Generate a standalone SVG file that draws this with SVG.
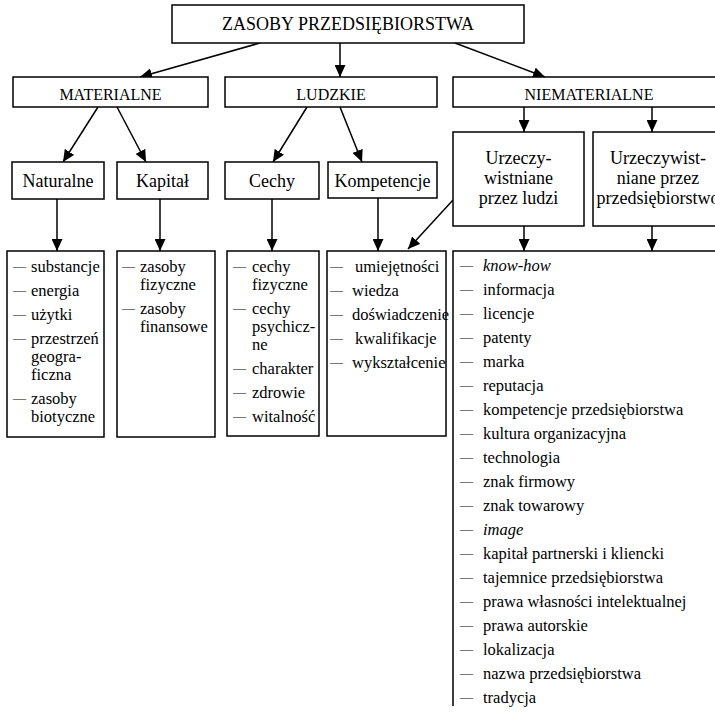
<svg xmlns="http://www.w3.org/2000/svg" width="715" height="714" viewBox="0 0 715 714">
<style>
text{font-family:"Liberation Serif","Times New Roman",serif;fill:#000}
.b{fill:#fff;stroke:#000;stroke-width:1.5}
.t18{font-size:18px;text-anchor:middle}
.t16{font-size:16px;text-anchor:middle}
.li{font-size:16.5px}
.d{font-size:13px}
.i{font-style:italic}
.c{stroke:#000;stroke-width:1.5;fill:none;marker-end:url(#ah)}
</style>
<defs>
<marker id="ah" markerUnits="userSpaceOnUse" markerWidth="12" markerHeight="11" refX="12" refY="5.5" orient="auto">
<path d="M0,0 L12,5.5 L0,11 z" fill="#000"/>
</marker>
</defs>
<rect width="715" height="714" fill="#fff"/>
<g id="connectors">
<line class="c" x1="260" y1="43" x2="140" y2="77"/>
<line class="c" x1="340" y1="43" x2="340" y2="77"/>
<line class="c" x1="455" y1="43" x2="545" y2="77"/>
<line class="c" x1="98" y1="107" x2="63" y2="162"/>
<line class="c" x1="117" y1="107" x2="146" y2="162"/>
<line class="c" x1="307" y1="107" x2="273" y2="162"/>
<line class="c" x1="340" y1="107" x2="362" y2="162"/>
<line class="c" x1="524" y1="107" x2="524" y2="132"/>
<line class="c" x1="652" y1="107" x2="652" y2="132"/>
<line class="c" x1="57" y1="199" x2="57" y2="251"/>
<line class="c" x1="160" y1="199" x2="160" y2="251"/>
<line class="c" x1="272" y1="199" x2="272" y2="251"/>
<line class="c" x1="378" y1="198" x2="378" y2="251"/>
<line class="c" x1="524" y1="226" x2="524" y2="251"/>
<line class="c" x1="652" y1="226" x2="652" y2="251"/>
<line class="c" x1="453" y1="200" x2="408" y2="249"/>
</g>
<g id="root">
<rect class="b" x="172" y="5" width="352" height="38"/>
<text class="t18" x="348" y="30">ZASOBY PRZEDSIĘBIORSTWA</text>
</g>
<g id="materialne">
<rect class="b" x="13" y="77" width="195" height="30"/>
<text class="t16" x="110.5" y="100">MATERIALNE</text>
</g>
<g id="ludzkie">
<rect class="b" x="225" y="77" width="212" height="30"/>
<text class="t16" x="331" y="100">LUDZKIE</text>
</g>
<g id="niematerialne">
<rect class="b" x="453" y="77" width="272" height="30"/>
<text class="t16" x="589" y="100">NIEMATERIALNE</text>
</g>
<g id="naturalne">
<rect class="b" x="12" y="162" width="92" height="37"/>
<text class="t18" x="58" y="187">Naturalne</text>
</g>
<g id="kapital">
<rect class="b" x="117" y="162" width="91" height="37"/>
<text class="t18" x="162.5" y="187">Kapitał</text>
</g>
<g id="cechy">
<rect class="b" x="225" y="162" width="94" height="37"/>
<text class="t18" x="272" y="187">Cechy</text>
</g>
<g id="kompetencje">
<rect class="b" x="328" y="162" width="109" height="36"/>
<text class="t18" x="382.5" y="187">Kompetencje</text>
</g>
<g id="urz-ludzi">
<rect class="b" x="453" y="132" width="131" height="94"/>
<text class="t18" x="518.5" y="164">Urzeczy-</text>
<text class="t18" x="518.5" y="184">wistniane</text>
<text class="t18" x="518.5" y="204">przez ludzi</text>
</g>
<g id="urz-przeds">
<rect class="b" x="593" y="132" width="130" height="94"/>
<text class="t18" x="658" y="164">Urzeczywist-</text>
<text class="t18" x="658" y="184">niane przez</text>
<text class="t18" x="658" y="204">przedsiębiorstwo</text>
</g>
<g id="lista-naturalne">
<rect class="b" x="7" y="251" width="97" height="186"/>
<text class="d" x="13" y="270">—</text><text class="li" x="31" y="272">substancje</text>
<text class="d" x="13" y="294">—</text><text class="li" x="31" y="296">energia</text>
<text class="d" x="13" y="318">—</text><text class="li" x="31" y="320">użytki</text>
<text class="d" x="13" y="342">—</text><text class="li" x="31" y="344">przestrzeń</text>
<text class="li" x="31" y="362">geogra-</text>
<text class="li" x="31" y="380">ficzna</text>
<text class="d" x="13" y="402">—</text><text class="li" x="31" y="404">zasoby</text>
<text class="li" x="31" y="422">biotyczne</text>
</g>
<g id="lista-kapital">
<rect class="b" x="117" y="251" width="98" height="186"/>
<text class="d" x="122" y="270">—</text><text class="li" x="140" y="272">zasoby</text>
<text class="li" x="140" y="290">fizyczne</text>
<text class="d" x="122" y="312">—</text><text class="li" x="140" y="314">zasoby</text>
<text class="li" x="140" y="332">finansowe</text>
</g>
<g id="lista-cechy">
<rect class="b" x="227" y="251" width="92" height="185"/>
<text class="d" x="233" y="270">—</text><text class="li" x="252" y="272">cechy</text>
<text class="li" x="252" y="290">fizyczne</text>
<text class="d" x="233" y="312">—</text><text class="li" x="252" y="314">cechy</text>
<text class="li" x="252" y="332">psychicz-</text>
<text class="li" x="252" y="350">ne</text>
<text class="d" x="233" y="372">—</text><text class="li" x="252" y="374">charakter</text>
<text class="d" x="233" y="396">—</text><text class="li" x="252" y="398">zdrowie</text>
<text class="d" x="233" y="420">—</text><text class="li" x="252" y="422">witalność</text>
</g>
<g id="lista-kompetencje">
<rect class="b" x="327" y="251" width="119" height="185"/>
<text class="d" x="330" y="270">—</text><text class="li" x="355" y="272">umiejętności</text>
<text class="d" x="330" y="294">—</text><text class="li" x="352" y="296">wiedza</text>
<text class="d" x="330" y="318">—</text><text class="li" x="352" y="320">doświadczenie</text>
<text class="d" x="330" y="342">—</text><text class="li" x="355" y="344">kwalifikacje</text>
<text class="d" x="330" y="366">—</text><text class="li" x="352" y="368">wykształcenie</text>
</g>
<g id="lista-niematerialne">
<path d="M716,251 H453 V706" fill="none" stroke="#000" stroke-width="1.5"/>
<text class="d" x="460" y="269">—</text><text class="li i" x="483" y="271">know-how</text>
<text class="d" x="460" y="293">—</text><text class="li" x="483" y="295">informacja</text>
<text class="d" x="460" y="317">—</text><text class="li" x="483" y="319">licencje</text>
<text class="d" x="460" y="341">—</text><text class="li" x="483" y="343">patenty</text>
<text class="d" x="460" y="365">—</text><text class="li" x="483" y="367">marka</text>
<text class="d" x="460" y="389">—</text><text class="li" x="483" y="391">reputacja</text>
<text class="d" x="460" y="413">—</text><text class="li" x="483" y="415">kompetencje przedsiębiorstwa</text>
<text class="d" x="460" y="437">—</text><text class="li" x="483" y="439">kultura organizacyjna</text>
<text class="d" x="460" y="461">—</text><text class="li" x="483" y="463">technologia</text>
<text class="d" x="460" y="485">—</text><text class="li" x="483" y="487">znak firmowy</text>
<text class="d" x="460" y="509">—</text><text class="li" x="483" y="511">znak towarowy</text>
<text class="d" x="460" y="533">—</text><text class="li i" x="483" y="535">image</text>
<text class="d" x="460" y="557">—</text><text class="li" x="483" y="559">kapitał partnerski i kliencki</text>
<text class="d" x="460" y="581">—</text><text class="li" x="483" y="583">tajemnice przedsiębiorstwa</text>
<text class="d" x="460" y="605">—</text><text class="li" x="483" y="607">prawa własności intelektualnej</text>
<text class="d" x="460" y="629">—</text><text class="li" x="483" y="631">prawa autorskie</text>
<text class="d" x="460" y="653">—</text><text class="li" x="483" y="655">lokalizacja</text>
<text class="d" x="460" y="677">—</text><text class="li" x="483" y="679">nazwa przedsiębiorstwa</text>
<text class="d" x="460" y="701">—</text><text class="li" x="483" y="703">tradycja</text>
</g>
</svg>
